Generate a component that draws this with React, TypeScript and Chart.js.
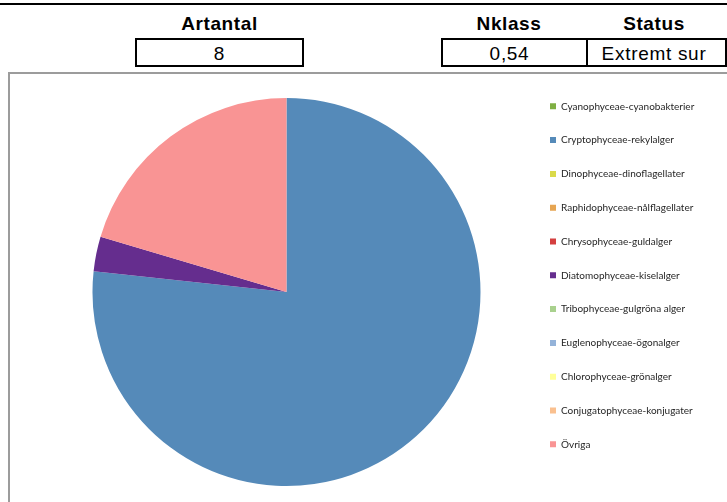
import React, { useEffect, useRef } from "react";
import { Chart, registerables } from "chart.js";

Chart.register(...registerables);

const categories = [
  "Cyanophyceae-cyanobakterier",
  "Cryptophyceae-rekylalger",
  "Dinophyceae-dinoflagellater",
  "Raphidophyceae-nålflagellater",
  "Chrysophyceae-guldalger",
  "Diatomophyceae-kiselalger",
  "Tribophyceae-gulgröna alger",
  "Euglenophyceae-ögonalger",
  "Chlorophyceae-grönalger",
  "Conjugatophyceae-konjugater",
  "Övriga",
];
const shares = [0, 76.7, 0, 0, 0, 2.9, 0, 0, 0, 0, 20.4];
const sliceColors = [
  "#7FAF42",
  "#558AB9",
  "#DADA4A",
  "#E6A552",
  "#D43F3F",
  "#652D8E",
  "#A9D18E",
  "#94B3D9",
  "#FFFF99",
  "#FAC08F",
  "#F99494",
];
const headerTitles = ["Artantal", "Nklass", "Status"];
const headerValues = ["8", "0,54", "Extremt sur"];

const headFont = '"Liberation Sans", Arial, sans-serif';
const legendFontFamily = "Lato";
const legendFontSize = 10;
const legendPadding = 23.8;
const legendBox = 6;

export default function App() {
  const canvasRef = useRef<HTMLCanvasElement | null>(null);

  useEffect(() => {
    const canvas = canvasRef.current;
    if (!canvas) return;
    const W = 717;
    const legendLeft = 516.2;
    // natural legend width as Chart.js computes it
    const mctx = document.createElement("canvas").getContext("2d")!;
    mctx.font = `${legendFontSize}px ${legendFontFamily}`;
    let maxItem = 0;
    for (const c of categories) {
      maxItem = Math.max(maxItem, legendBox + legendFontSize / 2 + mctx.measureText(c).width);
    }
    const legendWidth = legendPadding + maxItem + 10;
    const padRight = Math.max(0, W - legendLeft - legendWidth);
    const padLeft = 36.8;

    const chart = new Chart(canvas, {
      type: "pie",
      data: {
        labels: categories,
        datasets: [
          {
            data: shares,
            backgroundColor: sliceColors,
            borderWidth: 0,
            radius: 194,
          } as any,
        ],
      },
      options: {
        responsive: false,
        animation: false,
        events: [],
        layout: { padding: { left: padLeft, right: padRight, top: 3.5, bottom: 0.5 } },
        plugins: {
          legend: {
            position: "right",
            align: "start",
            labels: {
              boxWidth: legendBox,
              boxHeight: legendBox,
              padding: legendPadding,
              color: "#262626",
              font: { family: legendFontFamily, size: legendFontSize },
            },
          },
          tooltip: { enabled: false },
        },
      } as any,
    });
    return () => chart.destroy();
  }, []);

  const box: React.CSSProperties = {
    position: "absolute",
    border: "2px solid #000",
    boxSizing: "border-box",
  };
  const titleStyle: React.CSSProperties = {
    position: "absolute",
    top: 13,
    height: 22,
    lineHeight: "22px",
    fontFamily: headFont,
    fontWeight: "bold",
    fontSize: 19,
    letterSpacing: 0.6,
    textAlign: "center",
    color: "#000",
  };
  const valueStyle: React.CSSProperties = {
    position: "absolute",
    top: 43,
    height: 22,
    lineHeight: "22px",
    fontFamily: headFont,
    fontSize: 19,
    letterSpacing: 0.7,
    textAlign: "center",
    color: "#000",
  };

  return (
    <div
      style={{
        position: "fixed",
        left: 0,
        top: 0,
        width: 727,
        height: 502,
        overflow: "hidden",
        background: "#fff",
      }}
    >
      <div style={{ position: "absolute", left: 0, top: 3, width: 727, height: 2, background: "#000" }} />

      <div style={{ ...titleStyle, left: 135, width: 169 }}>{headerTitles[0]}</div>
      <div style={{ ...titleStyle, left: 441, width: 136 }}>{headerTitles[1]}</div>
      <div style={{ ...titleStyle, left: 586, width: 136 }}>{headerTitles[2]}</div>

      <div style={{ ...box, left: 135, top: 38, width: 169, height: 29 }} />
      <div style={{ ...box, left: 441, top: 38, width: 147, height: 29 }} />
      <div style={{ ...box, left: 586, top: 38, width: 141, height: 29 }} />

      <div style={{ ...valueStyle, left: 135, width: 169 }}>{headerValues[0]}</div>
      <div style={{ ...valueStyle, left: 441, width: 137 }}>{headerValues[1]}</div>
      <div style={{ ...valueStyle, left: 586, width: 136 }}>{headerValues[2]}</div>

      <div
        style={{
          position: "absolute",
          left: 8,
          top: 72,
          width: 740,
          height: 450,
          borderLeft: "2px solid #9c9c9c",
          borderTop: "2px solid #9c9c9c",
        }}
      />
      <canvas
        ref={canvasRef}
        width={717}
        height={433}
        style={{ position: "absolute", left: 10, top: 74, width: 717, height: 433 }}
      />
    </div>
  );
}
